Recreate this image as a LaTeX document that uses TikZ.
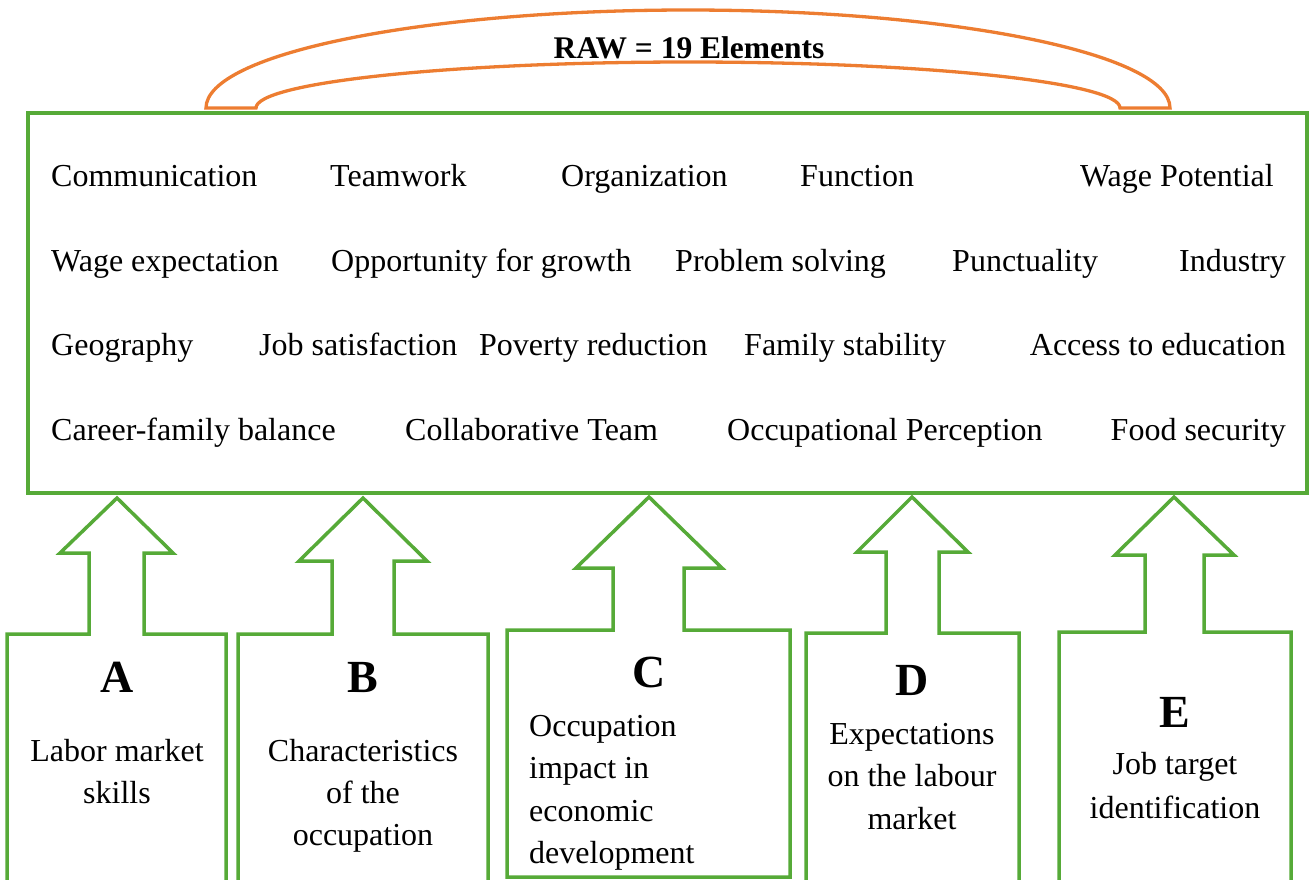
\documentclass[tikz,border=0pt]{standalone}
\usepackage{fontspec}
\setmainfont{Liberation Serif}
\definecolor{grn}{HTML}{56AA38}
\definecolor{org}{HTML}{ED7D31}
\tikzset{
  item/.style={inner sep=0pt, font=\fontsize{32}{37}\selectfont},
  lbl/.style={inner sep=0pt, font=\bfseries\fontsize{46}{54}\selectfont},
  title/.style={inner sep=0pt, font=\bfseries\fontsize{31.5}{37}\selectfont},
  frame/.style={draw=grn, line width=3.5pt, line join=miter},
  bridge/.style={draw=org, line width=3.3pt}
}
\begin{document}
\begin{tikzpicture}[x=1pt,y=-1pt]
\path[use as bounding box] (0,0) rectangle (1309,879);
\clip (0,0) rectangle (1309,879);
% bridge arc
\draw[bridge] (206,108) arc[start angle=180, end angle=360, x radius=482, y radius=98]
  -- (1120,108) arc[start angle=360, end angle=180, x radius=432, y radius=46] -- cycle;
\node[title, anchor=base] (raw) at (689,58) {RAW = 19 Elements};
% main box
\draw[frame] (28,113) rectangle (1307,493);
% row 1
\node[item, anchor=base west] (e1) at (51,186) {Communication};
\node[item, anchor=base west] (e2) at (330,186) {Teamwork};
\node[item, anchor=base west] (e3) at (561,186) {Organization};
\node[item, anchor=base west] (e4) at (800,186) {Function};
\node[item, anchor=base east] (e5) at (1274,186) {Wage Potential};
% row 2
\node[item, anchor=base west] (e6) at (51,271) {Wage expectation};
\node[item, anchor=base west] (e7) at (331,271) {Opportunity for growth};
\node[item, anchor=base west] (e8) at (675,271) {Problem solving};
\node[item, anchor=base west] (e9) at (952,271) {Punctuality};
\node[item, anchor=base east] (e10) at (1286,271) {Industry};
% row 3
\node[item, anchor=base west] (e11) at (51,355) {Geography};
\node[item, anchor=base west] (e12) at (259,355) {Job satisfaction};
\node[item, anchor=base west] (e13) at (479,355) {Poverty reduction};
\node[item, anchor=base west] (e14) at (744,355) {Family stability};
\node[item, anchor=base east] (e15) at (1286,355) {Access to education};
% row 4
\node[item, anchor=base west] (e16) at (51,440) {Career-family balance};
\node[item, anchor=base west] (e17) at (405,440) {Collaborative Team};
\node[item, anchor=base west] (e18) at (727,440) {Occupational Perception};
\node[item, anchor=base east] (e19) at (1286,440) {Food security};
% arrow-boxes
\draw[frame] (7,882) -- (7,634) -- (89,634) -- (89,553) -- (60,553) -- (117,498)
  -- (173,553) -- (144,553) -- (144,634) -- (226,634) -- (226,882);
\draw[frame] (238,882) -- (238,634) -- (332,634) -- (332,561) -- (299,561) -- (363,498)
  -- (427,561) -- (394,561) -- (394,634) -- (488,634) -- (488,882);
\draw[frame] (507,877) -- (507,630) -- (613,630) -- (613,568) -- (576,568) -- (649,497)
  -- (722,568) -- (684,568) -- (684,630) -- (790,630) -- (790,877) -- cycle;
\draw[frame] (806,882) -- (806,633) -- (886,633) -- (886,552) -- (857,552) -- (912,497)
  -- (968,552) -- (939,552) -- (939,633) -- (1019,633) -- (1019,882);
\draw[frame] (1059,882) -- (1059,632) -- (1145,632) -- (1145,555) -- (1115,555) -- (1174,497)
  -- (1234,555) -- (1204,555) -- (1204,632) -- (1291,632) -- (1291,882);
% A
\node[lbl, anchor=base] (la) at (117,692) {A};
\node[item, anchor=base] (ta1) at (117,761) {Labor market};
\node[item, anchor=base] (ta2) at (117,803) {skills};
% B
\node[lbl, anchor=base] (lb) at (363,692) {B};
\node[item, anchor=base] (tb1) at (363,761) {Characteristics};
\node[item, anchor=base] (tb2) at (363,803) {of the};
\node[item, anchor=base] (tb3) at (363,845) {occupation};
% C
\node[lbl, anchor=base] (lc) at (649,687) {C};
\node[item, anchor=base west] (tc1) at (529,736) {Occupation};
\node[item, anchor=base west] (tc2) at (529,778) {impact in};
\node[item, anchor=base west] (tc3) at (529,821) {economic};
\node[item, anchor=base west] (tc4) at (529,863) {development};
% D
\node[lbl, anchor=base] (ld) at (912,695) {D};
\node[item, anchor=base] (td1) at (912,744) {Expectations};
\node[item, anchor=base] (td2) at (912,786) {on the labour};
\node[item, anchor=base] (td3) at (912,829) {market};
% E
\node[lbl, anchor=base] (le) at (1175,727) {E};
\node[item, anchor=base] (te1) at (1175,774) {Job target};
\node[item, anchor=base] (te2) at (1175,818) {identification};
\end{tikzpicture}
\end{document}
